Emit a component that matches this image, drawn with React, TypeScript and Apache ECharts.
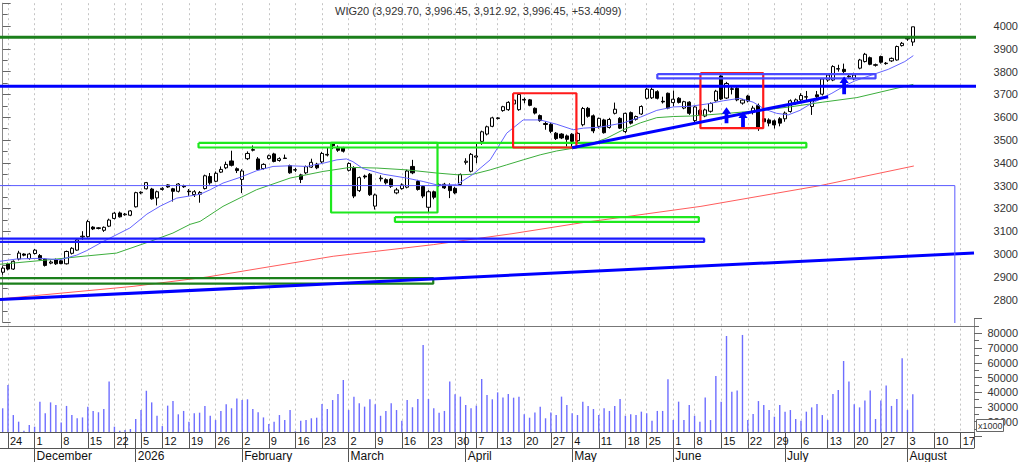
import React, { useEffect, useRef } from 'react';
import * as echarts from 'echarts';

// ---------- calendar (categories) ----------
const FIRST_DAY = '2025-11-21';
const LAST_DAY = '2026-08-19';
// weekdays without a bar on the chart's axis
const NO_SESSION = [
  '2025-12-24', '2025-12-25', '2025-12-26', '2025-12-31', '2026-01-01', '2026-01-06',
  '2026-04-03', '2026-04-06', '2026-05-01', '2026-05-22', '2026-06-04',
];
const MONTH_LABELS: Record<string, string> = {
  '2025-12': 'December', '2026-01': '2026', '2026-02': 'February', '2026-03': 'March',
  '2026-04': 'April', '2026-05': 'May', '2026-06': 'June', '2026-07': 'July', '2026-08': 'August',
};
const TITLE = 'WIG20 (3,929.70, 3,996.45, 3,912.92, 3,996.45, +53.4099)';

// ---------- daily bars: [open, high, low, close], from 2025-11-21 ----------
const ohlc: number[][] = [
  [2920, 2946, 2909, 2938], [2956, 2962, 2928, 2934], [2934, 2972, 2930, 2968], [2978, 3014, 2972, 3004],
  [3000, 3003, 2990, 2995], [2980, 3005, 2975, 3000], [3002, 3022, 2998, 3017], [2993, 3000, 2972, 2977],
  [2978, 2982, 2945, 2950], [2960, 2972, 2955, 2965], [2975, 2980, 2952, 2957], [2970, 2975, 2955, 2958],
  [2957, 3015, 2954, 3011], [3003, 3030, 2998, 3025], [3017, 3068, 3014, 3062], [3075, 3100, 3062, 3078],
  [3076, 3150, 3072, 3142], [3118, 3122, 3105, 3110], [3112, 3118, 3108, 3115], [3104, 3121, 3097, 3117],
  [3122, 3155, 3118, 3149], [3156, 3185, 3152, 3179], [3180, 3186, 3160, 3163], [3172, 3180, 3168, 3175],
  [3170, 3193, 3166, 3189], [3207, 3273, 3204, 3269], [3268, 3275, 3262, 3271], [3286, 3316, 3283, 3313],
  [3285, 3290, 3238, 3242], [3246, 3278, 3213, 3273], [3283, 3293, 3278, 3288], [3303, 3306, 3290, 3294],
  [3286, 3290, 3230, 3275], [3275, 3311, 3270, 3307], [3298, 3304, 3290, 3295], [3276, 3285, 3255, 3273],
  [3261, 3280, 3250, 3273], [3262, 3276, 3225, 3270], [3287, 3348, 3283, 3343], [3340, 3355, 3304, 3312],
  [3319, 3362, 3315, 3354], [3359, 3384, 3355, 3371], [3378, 3405, 3372, 3393], [3408, 3453, 3384, 3389],
  [3374, 3380, 3355, 3366], [3327, 3372, 3267, 3364], [3418, 3450, 3412, 3441], [3455, 3476, 3450, 3458],
  [3417, 3425, 3365, 3370], [3375, 3398, 3370, 3393], [3419, 3436, 3414, 3431], [3439, 3444, 3402, 3406],
  [3410, 3424, 3405, 3418], [3421, 3436, 3417, 3419], [3388, 3392, 3352, 3356], [3368, 3378, 3360, 3370],
  [3347, 3352, 3311, 3327], [3356, 3388, 3350, 3383], [3381, 3418, 3377, 3402], [3394, 3400, 3372, 3378],
  [3404, 3448, 3398, 3441], [3434, 3465, 3428, 3437], [3483, 3490, 3460, 3475], [3468, 3476, 3448, 3455],
  [3465, 3470, 3445, 3451], [3367, 3402, 3362, 3397], [3376, 3385, 3245, 3254], [3278, 3340, 3272, 3335],
  [3342, 3348, 3330, 3338], [3350, 3355, 3255, 3260], [3210, 3265, 3195, 3259], [3330, 3345, 3318, 3333],
  [3326, 3332, 3305, 3312], [3328, 3333, 3290, 3297], [3268, 3290, 3262, 3281], [3287, 3310, 3282, 3303],
  [3293, 3370, 3288, 3364], [3384, 3413, 3350, 3356], [3318, 3325, 3278, 3283], [3296, 3300, 3245, 3254],
  [3205, 3280, 3180, 3273], [3273, 3278, 3240, 3249], [3300, 3310, 3295, 3305], [3306, 3312, 3285, 3290],
  [3300, 3310, 3245, 3278], [3288, 3295, 3262, 3268], [3305, 3353, 3300, 3349], [3402, 3420, 3392, 3407],
  [3363, 3443, 3358, 3437], [3425, 3486, 3398, 3430], [3494, 3541, 3479, 3536], [3526, 3563, 3520, 3558],
  [3560, 3602, 3556, 3597], [3594, 3600, 3590, 3597], [3629, 3650, 3624, 3646], [3633, 3670, 3628, 3665],
  [3658, 3680, 3650, 3675], [3633, 3706, 3628, 3700], [3678, 3686, 3661, 3675], [3676, 3680, 3648, 3652],
  [3639, 3643, 3612, 3618], [3607, 3612, 3580, 3585], [3572, 3582, 3545, 3568], [3569, 3574, 3530, 3538],
  [3530, 3535, 3500, 3506], [3526, 3530, 3504, 3509], [3518, 3524, 3471, 3503], [3525, 3530, 3470, 3494],
  [3497, 3534, 3490, 3529], [3567, 3645, 3560, 3638], [3639, 3645, 3598, 3604], [3606, 3612, 3530, 3540],
  [3560, 3598, 3550, 3595], [3588, 3593, 3528, 3532], [3555, 3597, 3550, 3590], [3617, 3664, 3612, 3635],
  [3595, 3600, 3548, 3552], [3537, 3620, 3530, 3617], [3620, 3625, 3568, 3574], [3591, 3607, 3585, 3603],
  [3614, 3652, 3610, 3647], [3683, 3728, 3678, 3723], [3685, 3730, 3680, 3722], [3712, 3718, 3678, 3683],
  [3670, 3690, 3660, 3667], [3705, 3708, 3635, 3640], [3664, 3717, 3647, 3679], [3683, 3688, 3660, 3665],
  [3640, 3672, 3635, 3668], [3666, 3670, 3610, 3617], [3585, 3650, 3578, 3645], [3630, 3636, 3605, 3612],
  [3605, 3638, 3600, 3632], [3626, 3665, 3620, 3660], [3672, 3720, 3668, 3714], [3781, 3788, 3675, 3680],
  [3684, 3755, 3680, 3748], [3722, 3740, 3700, 3725], [3727, 3732, 3670, 3676], [3662, 3680, 3655, 3675],
  [3693, 3698, 3665, 3671], [3622, 3650, 3612, 3640], [3651, 3660, 3540, 3556], [3593, 3600, 3570, 3580],
  [3588, 3595, 3560, 3574], [3584, 3590, 3550, 3566], [3593, 3600, 3560, 3574], [3593, 3625, 3580, 3618],
  [3625, 3678, 3620, 3672], [3661, 3682, 3655, 3676], [3676, 3705, 3670, 3695], [3688, 3715, 3675, 3690],
  [3647, 3680, 3610, 3672], [3698, 3715, 3682, 3690], [3701, 3772, 3695, 3768], [3763, 3790, 3755, 3785],
  [3763, 3828, 3758, 3822], [3811, 3830, 3800, 3813], [3810, 3835, 3790, 3800], [3780, 3790, 3770, 3777],
  [3768, 3795, 3762, 3785], [3815, 3856, 3810, 3851], [3844, 3882, 3840, 3876], [3861, 3866, 3828, 3832],
  [3830, 3835, 3822, 3828], [3866, 3870, 3835, 3841], [3837, 3842, 3830, 3835], [3847, 3862, 3842, 3858],
  [3851, 3914, 3848, 3910], [3914, 3930, 3910, 3924], [3950, 3955, 3935, 3943], [3929.70, 3996.45, 3912.92, 3996.45],
];

// ---------- daily volume (x1000), same days ----------
const volume: number[] = [
  29100, 44900, 24500, 20000, 13900, 17700, 16600, 33600, 25700, 33100,
  31300, 19500, 30700, 24500, 22300, 22900, 30200, 27300, 26400, 28600,
  47200, 16600, 13900, 14400, 15000, 21800, 27900, 41000, 33100, 24000,
  17000, 30900, 34000, 25000, 27300, 20000, 25700, 26100, 30700, 24000,
  21100, 27300, 31800, 29100, 35800, 34700, 35200, 28600, 26400, 22900,
  18400, 20000, 24500, 21100, 27900, 13500, 20700, 21100, 22300, 22700,
  32000, 28600, 34700, 38800, 48300, 27900, 37000, 32500, 30200, 35200,
  31800, 24000, 27300, 32500, 27900, 20700, 34700, 29800, 35400, 72100,
  35400, 29100, 26100, 27300, 47200, 38600, 37000, 31300, 29100, 30900,
  49000, 38100, 35200, 39900, 36500, 38800, 36300, 37000, 25000, 22700,
  26300, 30200, 22300, 26300, 24500, 37000, 31300, 25700, 24500, 33600,
  30700, 28600, 24500, 29100, 27300, 30700, 35400, 24000, 25000, 24500,
  26800, 25700, 20700, 27300, 27300, 48800, 21100, 33600, 21100, 31300,
  24000, 20000, 36500, 21100, 51000, 33600, 78200, 40400, 41100, 78900,
  21100, 25200, 34000, 31300, 27900, 23400, 31300, 26800, 27900, 21800,
  20700, 26800, 29700, 32000, 24500, 21100, 38800, 41500, 61200, 47200,
  31800, 29700, 34300, 41100, 21800, 34300, 44500, 30700, 35400, 63000,
  27900, 38600,
];
const VOLUME_FLOOR = 13000; // value at the bottom edge of the volume panel

// ---------- moving averages: [day ordinal, value] ----------
const maFast: number[][] = [
  [-0.5, 2968], [2.6, 2978], [7, 2981], [10.8, 2975], [13.9, 2995], [15.8, 3015], [18.9, 3055],
  [23.9, 3114], [27.1, 3175], [29.6, 3210], [32.7, 3245], [37.1, 3262], [39, 3282], [41.4, 3311],
  [44.6, 3336], [47.7, 3365], [50.8, 3384], [54, 3387], [57.1, 3384], [60.2, 3398], [62.8, 3413],
  [64.6, 3417], [65.8, 3405], [67.7, 3375], [71.5, 3350], [75.9, 3333], [79, 3318], [81.6, 3303],
  [85.3, 3304], [88.4, 3350], [91.6, 3413], [94.7, 3530], [97.8, 3588], [101, 3588], [104.1, 3569],
  [107.2, 3545], [109.1, 3552], [112.2, 3556], [116.6, 3575], [119.8, 3600], [122.9, 3630], [126, 3645],
  [129.2, 3648], [132.3, 3658], [135.4, 3672], [138.5, 3683], [141, 3666], [143.2, 3635], [145.4, 3617],
  [147.6, 3610], [149.8, 3630], [152, 3661], [155.8, 3705], [158.3, 3739], [160.2, 3760], [163.9, 3790],
  [166.4, 3810], [169.5, 3844], [171.1, 3870],
];
const maMid: number[][] = [
  [-0.5, 2955], [8.9, 2975], [15.1, 2990], [21.4, 3004], [27.7, 3055], [32, 3092], [35.2, 3130],
  [37.1, 3143], [41.4, 3209], [47.7, 3282], [54, 3333], [60.2, 3362], [65.3, 3380], [70.3, 3377],
  [75.9, 3369], [81.6, 3355], [85.7, 3347], [88.4, 3350], [91.6, 3369], [94.7, 3391], [97.8, 3413],
  [101, 3435], [104.1, 3452], [107.2, 3464], [110.4, 3482], [113.5, 3508], [116.6, 3545], [119.8, 3575],
  [122.9, 3598], [126, 3603], [129.2, 3605], [132.3, 3610], [136.7, 3618], [141.7, 3628], [147.9, 3645],
  [154.1, 3666], [160.5, 3686], [166.7, 3720], [171.1, 3744],
];
const maLong: number[][] = [
  [-0.5, 2803], [24.5, 2858], [38.4, 2899], [62.1, 2990], [80.9, 3041], [95.7, 3089], [108.5, 3136],
  [131.2, 3209], [153.6, 3300], [171.2, 3386],
];

// ---------- drawn annotations (day ordinal, price) ----------
const levelLines = [
  { price: 3951, color: '#1b7f1b' },
  { price: 3736, color: '#0000ff' },
];
const boxes = [
  { x1: 36.8, x2: 151.0, top: 3487, bottom: 3467, color: '#1ee81e' },
  { x1: 61.7, x2: 81.7, top: 3487, bottom: 3182, color: '#1ee81e' },
  { x1: 73.7, x2: 130.8, top: 3162, bottom: 3141, color: '#1ee81e' },
  { x1: 95.9, x2: 107.8, top: 3705, bottom: 3467, color: '#ff1a1a' },
  { x1: 131.1, x2: 142.9, top: 3793, bottom: 3552, color: '#ff1a1a' },
  { x1: 123.0, x2: 164.0, top: 3789, bottom: 3770, color: '#4a4aff' },
  { x1: -3, x2: 131.8, top: 3067, bottom: 3053, color: '#1a1aff' },
  { x1: -3, x2: 80.9, top: 2894, bottom: 2870, color: '#1b7f1b' },
];
const trendLines = [
  [[107.0, 3466], [155.1, 3690]],
  [[-0.5, 2800], [182.5, 3004]],
];
const frame3300 = [[-3, 3300], [178.9, 3300], [178.9, 2600]];
const arrows = [
  [136.0, 3574, 3644],
  [139.1, 3557, 3625],
  [158.1, 3701, 3778],
];

// ---------- helpers ----------
function tradingDays(): string[] {
  const out: string[] = [];
  const [y0, m0, d0] = FIRST_DAY.split('-').map(Number);
  const [y1, m1, d1] = LAST_DAY.split('-').map(Number);
  let t = Date.UTC(y0, m0 - 1, d0);
  const end = Date.UTC(y1, m1 - 1, d1);
  while (t <= end) {
    const d = new Date(t);
    const wd = d.getUTCDay();
    const s = d.toISOString().slice(0, 10);
    if (wd !== 0 && wd !== 6 && !NO_SESSION.includes(s)) out.push(s);
    t += 86400000;
  }
  return out;
}
function mondayKey(s: string): string {
  const [y, m, d] = s.split('-').map(Number);
  const t = Date.UTC(y, m - 1, d);
  const wd = new Date(t).getUTCDay();
  return new Date(t - ((wd + 6) % 7) * 86400000).toISOString().slice(0, 10);
}

function buildOption() {
  const days = tradingDays();
  const N = days.length;
  const weekStart = days.map((s, i) => i > 0 && mondayKey(s) !== mondayKey(days[i - 1]));
  const monthStart = days.map((s, i) => i > 0 && s.slice(0, 7) !== days[i - 1].slice(0, 7));
  const showDay: boolean[] = [];
  let lastShown = -100;
  days.forEach((_, i) => {
    const ok = weekStart[i] && i - lastShown >= 3;
    if (ok) lastShown = i;
    showDay.push(ok);
  });

  const gridLineStyle = { color: '#c4c4c4', type: [2, 3] as any, width: 1 };
  const font = 'Liberation Sans, Arial, sans-serif';

  const rect = (b: any) => [[b.x1, b.top], [b.x2, b.top], [b.x2, b.bottom], [b.x1, b.bottom], [b.x1, b.top]];
  const lineSeries = (data: number[][], color: string, width: number, z: number) => ({
    type: 'line', xAxisIndex: 1, yAxisIndex: 0, data, symbol: 'none', silent: true, z,
    lineStyle: { color, width }, clip: true, animation: false,
  });

  const series: any[] = [
    {
      type: 'candlestick', xAxisIndex: 0, yAxisIndex: 0, z: 3, barWidth: 3.6,
      data: ohlc.map(([o, h, l, c]) => [o, c, l, h]),
      itemStyle: { color: '#ffffff', color0: '#000000', borderColor: '#000000', borderColor0: '#000000', borderWidth: 1 },
    },
    lineSeries(maLong, '#ff5c5c', 1, 4),
    lineSeries(maMid, '#3cae3c', 1, 4),
    lineSeries(maFast, '#6464ff', 1, 4),
    ...levelLines.map((l) => lineSeries([[-3, l.price], [N + 3, l.price]], l.color, 3, 5)),
    ...boxes.map((b) => lineSeries(rect(b), b.color, 2.2, 5)),
    ...trendLines.map((t) => lineSeries(t, '#0000ff', 3, 5)),
    lineSeries(frame3300, '#5a5aff', 1, 5),
    {
      type: 'custom', xAxisIndex: 1, yAxisIndex: 0, z: 6, silent: true,
      data: arrows, encode: { x: 0, y: [1, 2] },
      renderItem: (_p: any, api: any) => {
        const b = api.coord([api.value(0), api.value(1)]);
        const t = api.coord([api.value(0), api.value(2)]);
        const hw = 4.6, sw = 1.9, hh = 6.5;
        return {
          type: 'polygon',
          shape: { points: [[b[0] - sw, b[1]], [b[0] - sw, t[1] + hh], [b[0] - hw, t[1] + hh], [t[0], t[1]], [b[0] + hw, t[1] + hh], [b[0] + sw, t[1] + hh], [b[0] + sw, b[1]]] },
          style: { fill: '#0000ff' },
        };
      },
    },
    {
      type: 'custom', xAxisIndex: 2, yAxisIndex: 1, silent: true,
      data: volume.map((v, i) => [i, v]), encode: { x: 0, y: 1 },
      renderItem: (_p: any, api: any) => {
        const base = api.coord([api.value(0), VOLUME_FLOOR]);
        const top = api.coord([api.value(0), api.value(1)]);
        return { type: 'line', shape: { x1: base[0], y1: base[1], x2: top[0], y2: top[1] }, style: { stroke: '#6e6eff', lineWidth: 1.4 } };
      },
    },
  ];

  const yCommon = {
    position: 'right',
    axisLine: { show: true, lineStyle: { color: '#888' } },
    axisTick: { show: true, length: 8, lineStyle: { color: '#666' } },
    minorTick: { show: true, splitNumber: 2, length: 5, lineStyle: { color: '#666' } },
    axisLabel: {
      showMinLabel: false, showMaxLabel: false, align: 'right', margin: 44, fontSize: 11, color: '#333', fontFamily: font,
      formatter: (v: number) => String(v),
    },
    splitLine: { show: false },
  };

  return {
    animation: false,
    backgroundColor: '#ffffff',
    textStyle: { fontFamily: font },
    title: {
      text: TITLE, left: 335, top: 5, padding: 0,
      textStyle: { fontSize: 11, fontWeight: 'normal', color: '#333', fontFamily: font },
    },
    grid: [
      { left: 0, top: 3.2, width: 974, height: 319.2 },
      { left: 0, top: 318.6, width: 974, height: 117.8 },
    ],
    xAxis: [
      {
        type: 'category', gridIndex: 0, data: days, boundaryGap: true,
        axisLine: { show: false }, axisTick: { show: false }, axisLabel: { show: false },
        splitLine: { show: true, interval: (i: number) => weekStart[i], alignWithLabel: true, lineStyle: gridLineStyle },
      },
      { type: 'value', gridIndex: 0, min: -0.5, max: N - 0.5, show: false, splitLine: { show: false } },
      {
        type: 'category', gridIndex: 1, data: days, boundaryGap: true, position: 'bottom', offset: -4.4,
        axisLine: { show: true, onZero: false, lineStyle: { color: '#555' } },
        axisTick: { show: true, interval: (i: number) => weekStart[i] || monthStart[i], alignWithLabel: true, length: 16, lineStyle: { color: '#555' } },
        axisLabel: {
          show: true, interval: (i: number) => showDay[i], formatter: (v: string) => String(Number(v.slice(8))),
          align: 'left', margin: 3, padding: [0, 0, 0, 2], fontSize: 11, color: '#111', fontFamily: font,
        },
        splitLine: { show: true, interval: (i: number) => weekStart[i], alignWithLabel: true, lineStyle: gridLineStyle },
      },
      {
        type: 'category', gridIndex: 1, data: days, boundaryGap: true, position: 'bottom', offset: 11.6,
        axisLine: { show: true, onZero: false, lineStyle: { color: '#555' } },
        axisTick: { show: true, interval: (i: number) => monthStart[i], alignWithLabel: true, length: 14, lineStyle: { color: '#555' } },
        axisLabel: {
          show: true, interval: (i: number) => monthStart[i], formatter: (v: string) => MONTH_LABELS[v.slice(0, 7)] ?? '',
          align: 'left', margin: 2, padding: [0, 0, 0, 2], fontSize: 12, color: '#111', fontFamily: font,
        },
        splitLine: { show: false },
      },
    ],
    yAxis: [
      { type: 'value', gridIndex: 0, min: 2700, max: 4100, interval: 100, ...yCommon },
      { type: 'value', gridIndex: 1, min: 10000, max: 90000, interval: 10000, ...yCommon },
    ],
    graphic: [
      { type: 'line', z: 10, shape: { x1: 0, y1: 326.5, x2: 974, y2: 326.5 }, style: { stroke: '#777', lineWidth: 1 } },
      { type: 'line', z: 10, shape: { x1: 974.5, y1: 432, x2: 974.5, y2: 448 }, style: { stroke: '#555', lineWidth: 1 } },
      { type: 'rect', z: 20, shape: { x: 976.5, y: 419.5, width: 27, height: 12 }, style: { fill: '#ffffff', stroke: '#666', lineWidth: 1 } },
      { type: 'text', z: 21, x: 978, y: 421, style: { text: 'x1000', fontSize: 9, fill: '#333', fontFamily: font } },
    ],
    series,
  };
}

export default function App() {
  const ref = useRef<HTMLDivElement>(null);
  useEffect(() => {
    document.body.style.margin = '0';
    const chart = echarts.init(ref.current as HTMLDivElement, undefined, { renderer: 'svg' });
    chart.setOption(buildOption() as any);
    return () => chart.dispose();
  }, []);
  return <div ref={ref} style={{ position: 'fixed', left: 0, top: 0, width: 1024, height: 462, background: '#fff' }} />;
}
